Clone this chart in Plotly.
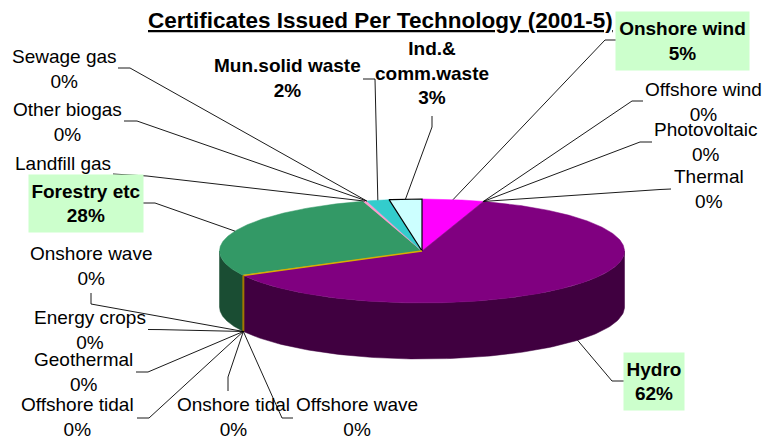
import numpy as np
import plotly.graph_objects as go

# ---------------- data ----------------
categories = ["Onshore wind", "Offshore wind", "Photovoltaic", "Thermal", "Hydro",
              "Offshore wave", "Onshore tidal", "Offshore tidal", "Geothermal",
              "Energy crops", "Onshore wave", "Forestry etc", "Landfill gas",
              "Other biogas", "Sewage gas", "Mun.solid waste", "Ind.& comm.waste"]
values = [4.9, 0, 0, 0, 62.3, 0, 0, 0, 0, 0, 0, 28.1, 0.3, 0, 0, 1.8, 2.6]
label_names = ["Onshore wind", "Offshore wind", "Photovoltaic", "Thermal", "Hydro",
               "Offshore wave", "Onshore tidal", "Offshore tidal", "Geothermal",
               "Energy crops", "Onshore wave", "Forestry etc", "Landfill gas",
               "Other biogas", "Sewage gas", "Mun.solid waste", "Ind.&<br>comm.waste"]
title_text = "Certificates Issued Per Technology (2001-5)"

# ---------------- styles / layout ----------------
top_colors = {"Onshore wind": "#FF00FF", "Hydro": "#800080", "Forestry etc": "#339966",
              "Landfill gas": "#FF99CC", "Mun.solid waste": "#33CCCC",
              "Ind.& comm.waste": "#CCFFFF", "Onshore wave": "#D9AE00"}
side_colors = {"Onshore wind": "#800080", "Hydro": "#400040", "Forestry etc": "#1A4D33",
               "Landfill gas": "#804D66", "Mun.solid waste": "#1A6666",
               "Ind.& comm.waste": "#668080", "Onshore wave": "#A07800"}
outlined = {"Ind.& comm.waste"}
bold = {"Onshore wind", "Hydro", "Forestry etc", "Mun.solid waste", "Ind.& comm.waste"}
boxed = {"Onshore wind": (133, 58), "Hydro": (60, 57), "Forestry etc": (114, 57)}
hide_pct = {"Landfill gas"}

# label centre positions (pixels)
label_pos = {"Onshore wind": (682.5, 41), "Offshore wind": (703, 102), "Photovoltaic": (706, 142),
             "Thermal": (708.5, 189), "Hydro": (654, 381), "Offshore wave": (357, 417),
             "Onshore tidal": (233, 417), "Offshore tidal": (77, 416.5), "Geothermal": (83, 372),
             "Energy crops": (90, 330), "Onshore wave": (91, 266), "Forestry etc": (86, 203.5),
             "Landfill gas": (63, 163), "Other biogas": (67, 122), "Sewage gas": (64, 69),
             "Mun.solid waste": (287, 78), "Ind.& comm.waste": (432, 73)}
# leader start and elbow (pixels)
leader_pts = {"Onshore wind": (616, 40, 605, 40), "Offshore wind": (643, 101, 632, 101),
              "Photovoltaic": (652, 142, 640, 142), "Thermal": (671, 189, 660, 189.5),
              "Hydro": (624, 381, 612, 381), "Offshore wave": (293, 418, 282, 418),
              "Onshore tidal": (228, 391, 228, 377), "Offshore tidal": (137, 418, 149, 418),
              "Geothermal": (136, 372, 148, 372), "Energy crops": (148, 329.5, 160, 329.6),
              "Onshore wave": (91, 293, 91, 304), "Forestry etc": (143, 203, 155, 203),
              "Landfill gas": (113, 174, 147, 176), "Other biogas": (124, 121, 137, 121),
              "Sewage gas": (118, 68, 130, 68), "Mun.solid waste": (363, 79, 375, 79),
              "Ind.& comm.waste": (432, 116, 432, 127)}

CX, CY, RX, RY, DEPTH = 422.0, 251.0, 202.5, 52.0, 56.0
W, H = 765, 439
FONT = "Liberation Sans, Arial, sans-serif"
FS = 19

vals = np.array(values, dtype=float)
total = vals.sum()
cum = np.concatenate([[0], np.cumsum(vals)]) / total * 360.0


def pt(theta_deg, down=0.0):
    t = np.radians(theta_deg)
    return CX + RX * np.sin(t), CY - RY * np.cos(t) + down


fig = go.Figure()

# side walls (front half 90..270)
for i, name in enumerate(categories):
    a, b = cum[i], cum[i + 1]
    lo, hi = max(a, 90.0), min(b, 270.0)
    if hi - lo <= 0 or name not in side_colors:
        continue
    ts = np.linspace(lo, hi, 120)
    xt, yt = pt(ts)
    xb, yb = pt(ts[::-1], DEPTH)
    fig.add_trace(go.Scatter(x=np.concatenate([xt, xb, xt[:1]]), y=np.concatenate([yt, yb, yt[:1]]),
                             mode="lines", fill="toself", fillcolor=side_colors[name],
                             line=dict(color=side_colors[name], width=0.5),
                             hoverinfo="skip", showlegend=False))

# top faces
for i, name in enumerate(categories):
    a, b = cum[i], cum[i + 1]
    if b - a <= 0:
        continue
    ts = np.linspace(a, b, max(4, int((b - a) * 2)))
    xa, ya = pt(ts)
    xs = np.concatenate([[CX], xa, [CX]])
    ys = np.concatenate([[CY], ya, [CY]])
    lc = "black" if name in outlined else top_colors[name]
    lw = 1.2 if name in outlined else 0.5
    fig.add_trace(go.Scatter(x=xs, y=ys, mode="lines", fill="toself", fillcolor=top_colors[name],
                             line=dict(color=lc, width=lw), hoverinfo="skip", showlegend=False))

# zero slices visible at the front: thin coloured edge
for i, name in enumerate(categories):
    if vals[i] == 0 and name in top_colors:
        th = cum[i]
        x1, y1 = pt(th)
        fig.add_trace(go.Scatter(x=[CX, x1], y=[CY, y1], mode="lines",
                                 line=dict(color=top_colors[name], width=1.5),
                                 hoverinfo="skip", showlegend=False))
        if 90 < th < 270:
            x2, y2 = pt(th, DEPTH)
            fig.add_trace(go.Scatter(x=[x1, x2], y=[y1, y2], mode="lines",
                                     line=dict(color=side_colors[name], width=2),
                                     hoverinfo="skip", showlegend=False))

# leader lines
for i, name in enumerate(categories):
    mid = (cum[i] + cum[i + 1]) / 2
    down = DEPTH if 90 < mid < 270 else 0.0
    px, py = pt(mid, down)
    ax, ay, ex, ey = leader_pts[name]
    fig.add_trace(go.Scatter(x=[ax, ex, px], y=[ay, ey, py], mode="lines",
                             line=dict(color="black", width=0.9),
                             hoverinfo="skip", showlegend=False))

# labels
for i, name in enumerate(categories):
    pct = int(round(vals[i] / total * 100))
    txt = label_names[i] if name in hide_pct else f"{label_names[i]}<br>{pct}%"
    if name in bold:
        txt = "<b>" + txt.replace("<br>", "</b><br><b>") + "</b>"
    x, y = label_pos[name]
    kw = {}
    if name in boxed:
        bw, bh = boxed[name]
        kw = dict(bgcolor="#CCFFCC", width=bw, height=bh, borderpad=0)
    fig.add_annotation(x=x, y=y, xref="x", yref="y", text=txt, showarrow=False,
                       xanchor="center", yanchor="middle", align="center",
                       font=dict(family=FONT, size=FS, color="black"), **kw)

fig.add_annotation(x=380, y=20, xref="x", yref="y", text=f"<b>{title_text}</b>", showarrow=False,
                   xanchor="center", yanchor="middle",
                   font=dict(family=FONT, size=22.5, color="black", lineposition="under"))

fig.update_layout(width=W, height=H, margin=dict(l=0, r=0, t=0, b=0),
                  paper_bgcolor="white", plot_bgcolor="white",
                  xaxis=dict(range=[0, W], visible=False, fixedrange=True),
                  yaxis=dict(range=[H, 0], visible=False, fixedrange=True),
                  showlegend=False)

fig.write_html("out.html", config={"displayModeBar": False, "staticPlot": True},
               post_script="document.body.style.margin='0px';document.body.style.overflow='hidden';")
